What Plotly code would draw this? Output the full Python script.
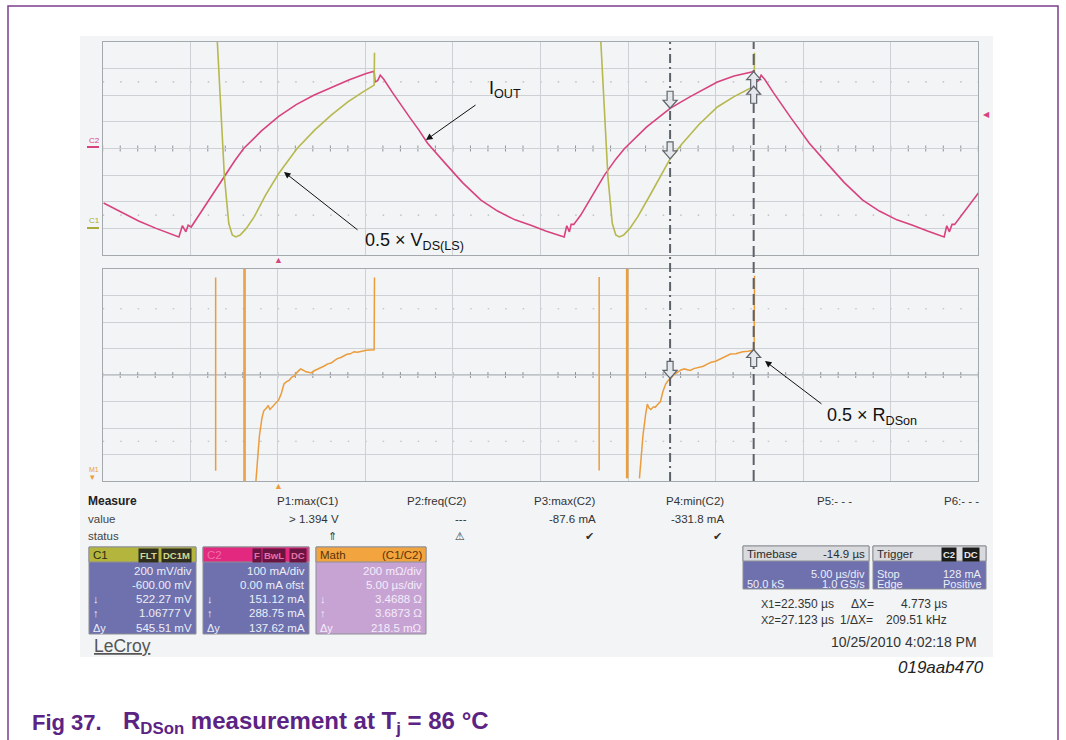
import plotly.graph_objects as go

W, H = 1066, 740
FONT = "Liberation Sans, Arial, sans-serif"

T_RANGE = [-10.05, 39.95]      # time, µs (5 µs/div, 10 div)
IOUT_RANGE = [-400, 400]       # C2: 100 mA/div, 0 mA offset
VDS_RANGE = [-200, 1400]       # C1: 200 mV/div, -600 mV offset
RDS_RANGE = [2.695, 4.295]     # Math C1/C2: 200 mOhm/div

# C2 - output current I_OUT (mA)
iout_t = [-10, -9, -8, -7, -6, -5.7, -5.5, -5.3, -5.17, -5.0,
          -4.5, -4.0, -3.5, -3.1, -2.5, -2.0, -1.0, 0, 1, 2,
          3, 4, 5, 5.45, 5.5, 5.65, 5.8, 6.0, 6.5, 7.0,
          7.5, 8.0, 8.5, 9.5, 10.5, 11.55, 12.5, 13.5, 14.4, 15.25,
          16.3, 16.45, 16.6, 16.7, 16.85, 17.25, 17.75, 18.25, 18.6, 19.25,
          19.75, 21.0, 22.35, 23.5, 25.05, 26.0, 27.15, 27.25, 27.4, 27.55,
          27.75, 28.25, 28.75, 29.25, 29.75, 30.3, 31.3, 32.3, 33.35, 34.3,
          35.3, 36.2, 37.05, 38.0, 38.15, 38.3, 38.45, 38.6, 40]
iout_ma = [-205, -240, -272, -300, -325, -332, -290, -313, -288, -295,
           -245, -195, -145, -100, -45, 0, 65, 121, 165, 200,
           230, 257, 282, 290, 250, 255, 275, 260, 210, 160,
           115, 70, 20, -55, -128, -194, -235, -268, -288, -310,
           -332, -290, -313, -285, -285, -250, -195, -140, -100, -40,
           0, 80, 151, 195, 250, 272, 289, 250, 255, 275,
           260, 210, 160, 115, 70, 20, -55, -128, -194, -235,
           -268, -288, -310, -332, -290, -313, -285, -285, -163]

# C1 - 0.5 x V_DS(LS) (mV)
vds_t = [-3.6, -3.5, -3.3, -3.1, -2.85, -2.65, -2.45, -2.2, -1.85, -1.4,
         -0.75, 0, 1.05, 2.05, 3.0, 3.95, 4.75, 5.45, 5.47, None,
         18.3, 18.4, 18.6, 18.8, 19.05, 19.25, 19.45, 19.7, 20.05, 20.5,
         21.25, 21.9, 22.35, 23.0, 24.0, 25.05, 26.0, 27.15, 27.17]
vds_mv = [1500, 1390, 888, 386, 36, -50, -64, -50, 0, 86,
          250, 412, 600, 738, 850, 950, 1020, 1076, 1320, None,
          1500, 1390, 888, 386, 36, -50, -64, -50, 0, 86,
          260, 410, 522, 630, 780, 912, 990, 1068, 1320]

# Math C1/C2 - 0.5 x R_DSon (Ohm)
rds_t = [-3.6, -3.6, None, -1.98, -1.98, None, -1.92, -1.92, None,
         -1.3, -1.1, -0.95, -0.85, -0.7, -0.6, -0.5, -0.35, -0.15, 0,
         0.15, 0.3, 0.45, 0.6, 0.75, 0.9, 1.05, 1.25, 1.4, 1.55,
         1.7, 1.85, 2.0, 2.15, 2.3, 2.45, 2.6, 2.8, 3.0, 3.2,
         3.35, 3.55, 3.7, 3.9, 4.1, 4.3, 4.5, 4.75, 5.0, 5.2,
         5.45, 5.47, None,
         18.3, 18.3, None, 19.87, 19.87, None, 19.93, 19.93, None,
         20.6, 20.8, 20.95, 21.05, 21.15, 21.25, 21.4, 21.5, 21.65, 21.8,
         21.95, 22.1, 22.25, 22.4, 22.55, 22.75, 22.95, 23.15, 23.35, 23.5,
         23.7, 24.0, 24.25, 24.5, 24.7, 24.95, 25.25, 25.5, 25.8, 26.1,
         26.5, 26.8, 27.15, 27.17]
rds_ohm = [4.231, 2.773, None, 4.295, 2.695, None, 4.295, 2.695, None,
           2.695, 3.037, 3.175, 3.225, 3.245, 3.265, 3.235, 3.255, 3.285, 3.307,
           3.355, 3.427, 3.445, 3.455, 3.479, 3.489, 3.515, 3.541, 3.531, 3.519,
           3.515, 3.511, 3.525, 3.535, 3.539, 3.555, 3.563, 3.579, 3.585, 3.605,
           3.619, 3.627, 3.639, 3.651, 3.655, 3.671, 3.667, 3.675, 3.681, 3.683,
           3.685, 4.231, None,
           4.235, 2.775, None, 4.295, 2.715, None, 4.295, 2.715, None,
           2.715, 3.037, 3.195, 3.275, 3.245, 3.235, 3.255, 3.251, 3.275, 3.295,
           3.375, 3.427, 3.455, 3.471, 3.495, 3.515, 3.531, 3.541, 3.535, 3.529,
           3.543, 3.555, 3.561, 3.579, 3.591, 3.599, 3.619, 3.631, 3.653, 3.655,
           3.671, 3.675, 3.683, 4.245]

cursor_t = [22.350, 27.123]
cursor_c1_mv = [522.27, 1067.77]
cursor_c2_ma = [151.12, 288.75]
cursor_math_ohm = [3.4688, 3.6873]
trigger_t = 0.0
trigger_level_ma = 128

assert len(iout_t) == len(iout_ma)
assert len(vds_t) == len(vds_mv)
assert len(rds_t) == len(rds_ohm)

# ---------------- layout geometry (pixels) ----------------
PX0, PX1 = 102.7, 978.3
TOP_Y0, TOP_Y1 = 42, 255
BOT_Y0, BOT_Y1 = 269, 481

PINK = "#d8437f"
OLIVE = "#b7b84e"
ORANGE = "#eb9c3c"
BG = "#f2f4f6"
GRID = "#cdd1d5"

def fx(x):
    return x / W

def fy(y):
    return 1 - y / H

ann = []
shp = []

def T(x, y, s, size=12, color="#333333", xa="left", bold=False, italic=False,
      bg=None, ya="middle", family=FONT):
    if bold:
        s = "<b>" + s + "</b>"
    if italic:
        s = "<i>" + s + "</i>"
    d = dict(x=fx(x), y=fy(y), xref="paper", yref="paper", text=s, showarrow=False,
             xanchor=xa, yanchor=ya, font=dict(size=size, color=color, family=family))
    if bg:
        d.update(bgcolor=bg, borderpad=1)
    ann.append(d)

def R(x0, y0, x1, y1, fill, line=None, lw=1, layer="below"):
    shp.append(dict(type="rect", xref="paper", yref="paper", x0=fx(x0), x1=fx(x1),
                    y0=fy(y1), y1=fy(y0), fillcolor=fill,
                    line=dict(color=line or fill, width=lw if line else 0), layer=layer))

def L(x0, y0, x1, y1, color, width=1, dash="solid", layer="above"):
    shp.append(dict(type="line", xref="paper", yref="paper", x0=fx(x0), x1=fx(x1),
                    y0=fy(y0), y1=fy(y1), line=dict(color=color, width=width, dash=dash),
                    layer=layer))

# page frame and screen background
R(8, 6, 1058, 760, "rgba(0,0,0,0)", line="#7b3f8f", lw=1.5, layer="below")
R(80, 36, 993, 657, BG, layer="below")

# ---------------- figure ----------------
fig = go.Figure()
fig.add_trace(go.Scatter(x=iout_t, y=iout_ma, xaxis="x", yaxis="y", mode="lines",
                         line=dict(color=PINK, width=1.6), hoverinfo="skip", name="I_OUT"))
fig.add_trace(go.Scatter(x=vds_t, y=vds_mv, xaxis="x", yaxis="y3", mode="lines",
                         line=dict(color=OLIVE, width=1.6), hoverinfo="skip", name="VDS"))
fig.add_trace(go.Scatter(x=rds_t, y=rds_ohm, xaxis="x2", yaxis="y2", mode="lines",
                         line=dict(color=ORANGE, width=1.5), hoverinfo="skip", name="RDSon"))

ax_common = dict(showgrid=True, gridcolor=GRID, gridwidth=1, showticklabels=False, ticks="",
                 zeroline=False, showline=True, mirror=True, linecolor="#a4a9ae", linewidth=1,
                 fixedrange=True)

# center lines, ticks and dotted rows
for xr, yr, yc, ydots in (("x", "y", 0, (-250, 250)), ("x2", "y2", 3.495, (2.995, 3.995))):
    shp.append(dict(type="line", xref=xr, yref=yr, x0=T_RANGE[0], x1=T_RANGE[1], y0=yc, y1=yc,
                    line=dict(color="#8f9499", width=1), layer="below"))
    for k in range(51):
        t = T_RANGE[0] + k
        shp.append(dict(type="line", xref=xr, yref=yr, ysizemode="pixel", yanchor=yc,
                        x0=t, x1=t, y0=-3, y1=3, line=dict(color="#8f9499", width=1),
                        layer="below"))
    for yd in ydots:
        shp.append(dict(type="line", xref=xr, yref=yr, x0=T_RANGE[0], x1=T_RANGE[1],
                        y0=yd, y1=yd, line=dict(color="#b3b7bc", width=1.2, dash="1.5px,16px"),
                        layer="below"))

# cursors
for t, dash in zip(cursor_t, ("9px,4px,2px,4px", "11px,5px")):
    shp.append(dict(type="line", xref="x", yref="paper", x0=t, x1=t, y0=fy(BOT_Y1), y1=fy(TOP_Y0),
                    line=dict(color="#5d6269", width=2, dash=dash), layer="above"))

def cursor_arrow(xr, yr, t, v, down):
    s = 1 if down else -1
    path = ("M0,0 L-7,{a} L-3,{a} L-3,{b} L3,{b} L3,{a} L7,{a} Z"
            .format(a=8 * s, b=17 * s))
    shp.append(dict(type="path", xref=xr, yref=yr, xsizemode="pixel", ysizemode="pixel",
                    xanchor=t, yanchor=v, path=path, fillcolor="#e4e7eb",
                    line=dict(color="#5f646b", width=1.2), layer="above"))

cursor_arrow("x", "y", cursor_t[0], cursor_c2_ma[0], True)
cursor_arrow("x", "y3", cursor_t[0], cursor_c1_mv[0], True)
cursor_arrow("x", "y", cursor_t[1], cursor_c2_ma[1], False)
cursor_arrow("x", "y3", cursor_t[1], cursor_c1_mv[1], False)
cursor_arrow("x2", "y2", cursor_t[0], cursor_math_ohm[0], True)
cursor_arrow("x2", "y2", cursor_t[1], cursor_math_ohm[1], False)

# channel markers
T(87, 140, "C2", size=8, color=PINK)
L(87, 147, 99, 147, PINK, width=2)
T(87, 220, "C1", size=8, color="#a9aa3a")
L(87, 228, 99, 228, "#a9aa3a", width=2)
T(87, 469, "M1", size=7, color=ORANGE)
T(88, 477, "▾", size=9, color=ORANGE)
ann.append(dict(x=trigger_t, y=fy(260), xref="x", yref="paper", text="▲", showarrow=False,
                font=dict(size=9, color=PINK), xanchor="center", yanchor="middle"))
ann.append(dict(x=trigger_t, y=fy(486), xref="x2", yref="paper", text="▲", showarrow=False,
                font=dict(size=9, color=ORANGE), xanchor="center", yanchor="middle"))
ann.append(dict(x=fx(981), y=trigger_level_ma, xref="paper", yref="y", text="◀", showarrow=False,
                font=dict(size=8, color=PINK), xanchor="left", yanchor="middle"))

# callouts
def callout(tail, head):
    ann.append(dict(x=fx(head[0]), y=fy(head[1]), xref="paper", yref="paper",
                    ax=tail[0] - head[0], ay=tail[1] - head[1], axref="pixel", ayref="pixel",
                    text="", showarrow=True, arrowhead=2, arrowsize=1.3, arrowwidth=1,
                    arrowcolor="#111111", standoff=0))

T(487, 89, "I<sub>OUT</sub>", size=18, color="#111111")
callout((477, 104), (426, 140))
T(363, 241, "0.5 × V<sub>DS(LS)</sub>", size=18, color="#111111")
callout((359, 231), (284, 172))
T(825, 416, "0.5 × R<sub>DSon</sub>", size=18, color="#111111")
callout((823, 405), (765, 361))

# measure table
T(86, 501, "Measure", size=12, color="#222222", bold=True)
T(86, 519, "value", size=11.5, color="#444444")
T(86, 536, "status", size=11.5, color="#444444")
meas_names = ["P1:max(C1)", "P2:freq(C2)", "P3:max(C2)", "P4:min(C2)", "P5:- - -", "P6:- - -"]
meas_vals = ["&gt; 1.394 V", "---", "-87.6 mA", "-331.8 mA", "", ""]
meas_stat = ["⇑", "⚠", "✔", "✔", "", ""]
meas_x = [341, 469, 598, 726, 854, 981]
for nm, vl, st, xr in zip(meas_names, meas_vals, meas_stat, meas_x):
    T(xr, 501, nm, size=11.5, color="#333333", xa="right")
    if vl:
        T(xr, 519, vl, size=11.5, color="#333333", xa="right")
    if st:
        T(xr - 2, 536, st, size=11, color="#333333", xa="right", family="DejaVu Sans")

# channel boxes
BLUE = "#6e71ae"
def chan_box(x0, x1, head, body, title, title_color, rows, labels, txt_color, right=None):
    R(x0, 547, x1, 634, body, line="#8d8f95")
    R(x0, 547, x1, 562, head, line="#8d8f95")
    T(x0 + 2, 555, title, size=11.5, color=title_color)
    if right:
        T(x1 - 2, 555, right, size=11.5, color=title_color, xa="right")
    for yy, r, lb in zip([570.5, 584.8, 599, 613.2, 627.8], rows, labels):
        T(x1 - 2, yy, r, size=11.5, color=txt_color, xa="right")
        if lb:
            T(x0 + 2, yy, lb, size=11, color=txt_color)

arrows = ["", "", "↓", "↑", "Δy"]
chan_box(89, 196, "#b4b53c", BLUE, "C1", "#2c2c12",
         ["200 mV/div", "-600.00 mV", "522.27 mV", "1.06777 V", "545.51 mV"], arrows, "#eceef8")
T(137.5, 555, "FLT", size=9.5, color="#d8d890", bg="#2f2f1f", bold=True)
T(160.5, 555, "DC1M", size=9.5, color="#d8d890", bg="#2f2f1f", bold=True)
chan_box(203, 309, "#e2287f", BLUE, "C2", "#f070a8",
         ["100 mA/div", "0.00 mA ofst", "151.12 mA", "288.75 mA", "137.62 mA"], arrows, "#eceef8")
T(252, 555, "F", size=9.5, color="#e870a8", bg="#6a1442", bold=True)
T(262, 555, "BwL", size=9.5, color="#e870a8", bg="#6a1442", bold=True)
T(288.5, 555, "DC", size=9.5, color="#e870a8", bg="#6a1442", bold=True)
chan_box(316, 426, "#f2a43f", "#c7a3d4", "Math", "#5b3306",
         ["200 mΩ/div", "5.00 µs/div", "3.4688 Ω", "3.6873 Ω", "218.5 mΩ"], arrows, "#f4ecfa",
         right="(C1/C2)")

# timebase / trigger boxes
def tb_box(x0, x1, title, right, rows):
    R(x0, 546, x1, 589, BLUE, line="#8d8f95")
    R(x0, 546, x1, 561, "#d8dadd", line="#8d8f95")
    T(x0 + 2, 554, title, size=11.5, color="#2a2a2a")
    if right:
        T(x1 - 2, 554, right, size=11.5, color="#2a2a2a", xa="right")
    for yy, (lft, rgt) in zip([573.8, 584.3], rows):
        if lft:
            T(x0 + 2, yy, lft, size=11, color="#eceef8")
        T(x1 - 2, yy, rgt, size=11, color="#eceef8", xa="right")

tb_box(743, 869, "Timebase", "-14.9 µs", [("", "5.00 µs/div"), ("50.0 kS", "1.0 GS/s")])
tb_box(873, 986, "Trigger", None, [("Stop", "128 mA"), ("Edge", "Positive")])
T(941, 554, "C2", size=9.5, color="#e8e8e8", bg="#1c1c1c", bold=True)
T(962, 554, "DC", size=9.5, color="#e8e8e8", bg="#1c1c1c", bold=True)

T(759, 603.5, "X1=", size=11)
T(836, 603.5, "22.350 µs", size=12, xa="right")
T(849, 603.5, "ΔX=", size=12)
T(949, 603.5, "4.773 µs", size=12, xa="right")
T(759, 620, "X2=", size=11)
T(836, 620, "27.123 µs", size=12, xa="right")
T(838, 620, "1/ΔX=", size=12)
T(949, 620, "209.51 kHz", size=12, xa="right")
T(979, 642, "10/25/2010 4:02:18 PM", size=14, xa="right")
T(92, 646, "<u>LeCroy</u>", size=17.5, color="#555555")
T(986, 667, "019aab470", size=17, xa="right", italic=True, color="#222222")

# caption
T(30, 722, "Fig 37.", size=22, color="#5b2384", bold=True)
T(121, 722, "R<sub>DSon</sub> measurement at T<sub>j</sub> = 86 °C", size=24, color="#5b2384",
  bold=True)

fig.update_layout(
    width=W, height=H, margin=dict(l=0, r=0, t=0, b=0),
    paper_bgcolor="white", plot_bgcolor=BG, showlegend=False,
    font=dict(family=FONT),
    xaxis=dict(domain=[fx(PX0), fx(PX1)], range=T_RANGE, dtick=5, tick0=T_RANGE[0], anchor="y",
               **ax_common),
    yaxis=dict(domain=[fy(TOP_Y1), fy(TOP_Y0)], range=IOUT_RANGE, dtick=100, anchor="x",
               **ax_common),
    yaxis3=dict(overlaying="y", range=VDS_RANGE, visible=False, fixedrange=True),
    xaxis2=dict(domain=[fx(PX0), fx(PX1)], range=T_RANGE, dtick=5, tick0=T_RANGE[0], anchor="y2",
                **ax_common),
    yaxis2=dict(domain=[fy(BOT_Y1), fy(BOT_Y0)], range=RDS_RANGE, dtick=0.2, tick0=RDS_RANGE[0],
                anchor="x2", **ax_common),
    annotations=ann, shapes=shp,
)

fig.write_html("out.html", config={"displayModeBar": False},
               post_script="document.body.style.margin='0';document.body.style.overflow='hidden';")
